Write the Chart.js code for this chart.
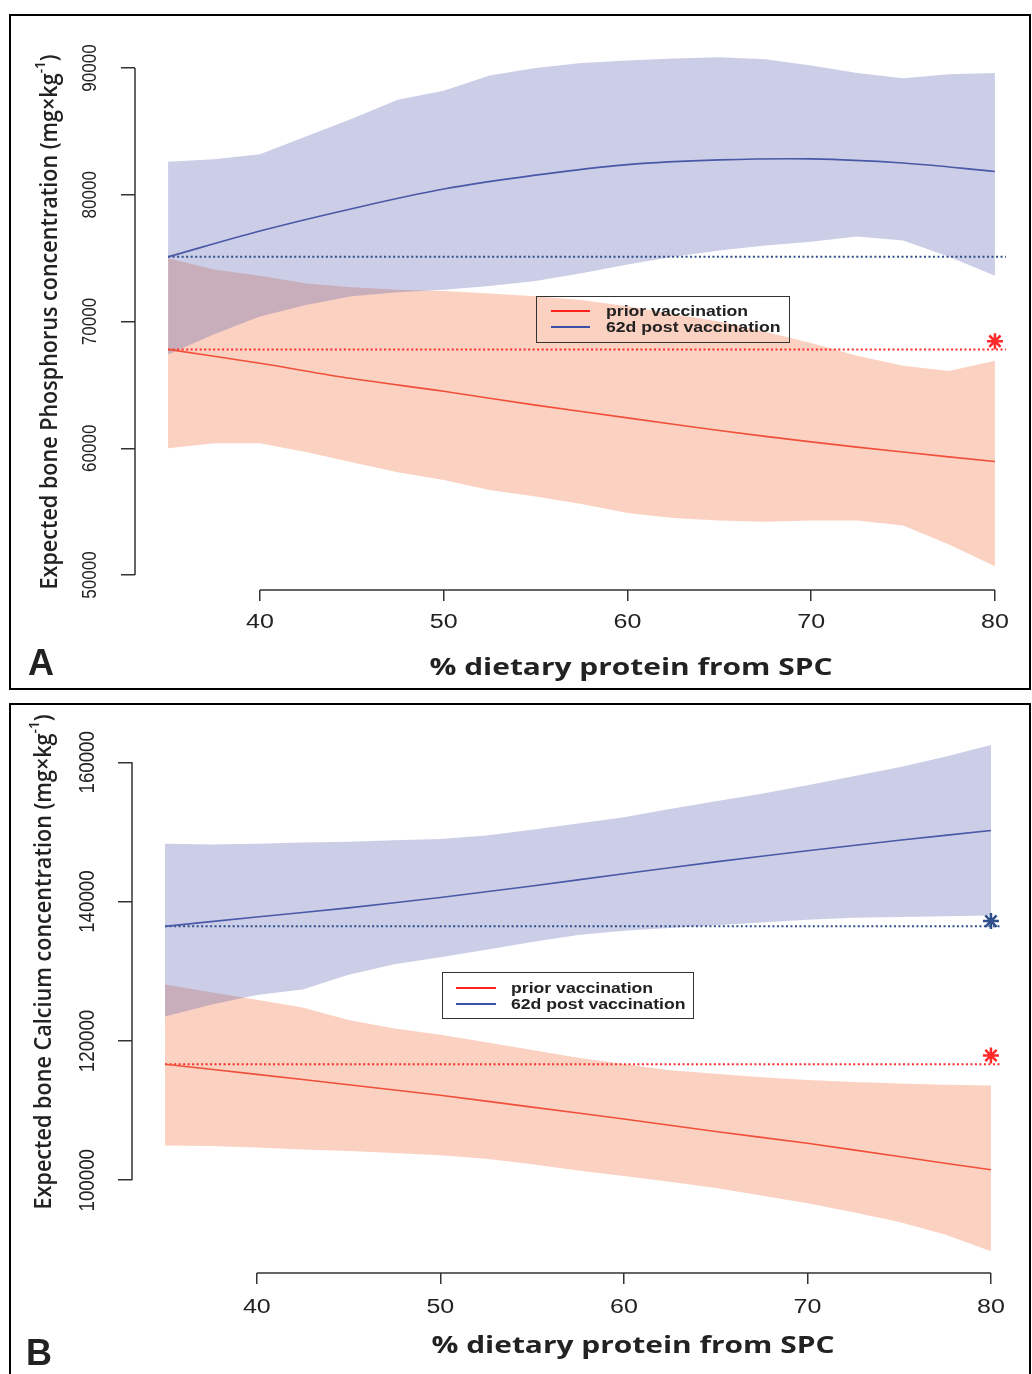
<!DOCTYPE html>
<html>
<head>
<meta charset="utf-8">
<script src="https://cdn.jsdelivr.net/npm/chart.js@4.4.1/dist/chart.umd.min.js"></script>
<style>
  body { margin: 0; background: #fff; width: 1032px; height: 1374px; position: relative; overflow: hidden; }
  canvas { position: absolute; left: 0; }
  .panel { position: absolute; left: 9px; width: 1018px; border: 2px solid #000; }
  .legend { position: absolute; border: 1.5px solid #333; font: bold 14px 'Liberation Sans', Arial, sans-serif; color: #222; }
  .legend span { position: absolute; height: 2px; }
  .legend div { position: absolute; white-space: nowrap; line-height: 18px; transform: scaleX(1.26); transform-origin: left center; }
</style>
</head>
<body>
<canvas id="chartA" width="1032" height="676" style="top:14px"></canvas>
<canvas id="chartB" width="1032" height="671" style="top:703px"></canvas>
<div class="panel" style="top:14px;height:672px"></div>
<div class="panel" style="top:703px;height:680px"></div>
<div id="legendA" class="legend" style="left:536px;top:296px;width:252px;height:45px"></div>
<div id="legendB" class="legend" style="left:442px;top:972px;width:250px;height:45px"></div>
<script>
// nama seri dan sumbu x
const seriesNames = ['prior vaccination', '62d post vaccination'];
const xTicks = [40, 50, 60, 70, 80];
const xBand = [35, 37.5, 40, 42.5, 45, 47.5, 50, 52.5, 55, 57.5, 60, 62.5, 65, 67.5, 70, 72.5, 75, 77.5, 80];
const xLine = [35, 40, 45, 50, 55, 60, 65, 70, 75, 80];
const xRef = [35, 80.6];

// Panel A - fosfor
const yTicksA = [50000, 60000, 70000, 80000, 90000];
const priorA = [67800, 66700, 65500, 64500, 63400, 62400, 61400, 60500, 59700, 58950];
const postA = [75100, 77140, 78900, 80450, 81550, 82380, 82750, 82830, 82500, 81840];
const priorLoA = [60000, 60400, 60400, 59700, 58900, 58100, 57500, 56700, 56200, 55600, 54900, 54500, 54300, 54200, 54300, 54300, 53900, 52400, 50700];
const priorHiA = [75000, 74100, 73600, 73000, 72700, 72500, 72400, 72200, 72000, 71700, 71200, 70600, 70000, 69200, 68300, 67300, 66500, 66100, 66900];
const postLoA = [67400, 69000, 70400, 71300, 72000, 72300, 72500, 72800, 73200, 73800, 74500, 75100, 75600, 76000, 76300, 76700, 76400, 75100, 73600];
const postHiA = [82600, 82800, 83200, 84600, 86000, 87500, 88200, 89400, 90000, 90400, 90600, 90750, 90850, 90700, 90200, 89600, 89200, 89500, 89600];
const priorRefA = 67800;
const postRefA = 75100;
const priorStarA = [{ x: 80, y: 68450 }];
const postStarA = [];

// Panel B - kalsium
const yTicksB = [100000, 120000, 140000, 160000];
const priorB = [116650, 115200, 113700, 112200, 110500, 108800, 107000, 105300, 103400, 101500];
const postB = [136450, 137800, 139100, 140600, 142250, 144000, 145700, 147300, 148800, 150200];
const priorLoB = [105000, 104900, 104700, 104400, 104200, 103900, 103600, 103100, 102300, 101400, 100600, 99800, 98900, 97800, 96700, 95400, 94000, 92200, 89800];
const priorHiB = [128100, 127000, 125900, 124800, 123000, 121800, 120900, 119800, 118700, 117600, 116700, 115800, 115300, 114800, 114400, 114100, 113900, 113700, 113600];
const postLoB = [123500, 125200, 126600, 127400, 129500, 131000, 132000, 133100, 134200, 135200, 135800, 136200, 136600, 137000, 137400, 137700, 137800, 137900, 138000];
const postHiB = [148300, 148200, 148300, 148500, 148600, 148800, 149000, 149500, 150300, 151200, 152100, 153300, 154400, 155500, 156700, 158000, 159300, 160800, 162500];
const priorRefB = 116650;
const postRefB = 136450;
const priorStarB = [{ x: 80, y: 117900 }];
const postStarB = [{ x: 80, y: 137200 }];

// warna
const RED_BAND = 'rgba(244, 124, 78, 0.35)';
const BLUE_BAND = 'rgba(82, 92, 172, 0.3)';
const RED_LINE = '#f0503a';
const BLUE_LINE = '#4a58a8';
const RED_DOT = '#ff2a2a';
const BLUE_DOT = '#2f4f8c';
const legendColors = ['#ff2020', '#3a50a8'];

Chart.defaults.font.family = "'Liberation Sans', Arial, sans-serif";

function pts(xs, ys) {
    return xs.map((x, i) => ({ x: x, y: ys[i] }));
}

// Judul sumbu, label tick (gaya R) dan garis sumbu
const rStyle = {
    id: 'rStyle',
    afterDraw(chart, args, o) {
        const ctx = chart.ctx;
        const xs = chart.scales.x;
        const ys = chart.scales.y;
        const area = chart.chartArea;
        ctx.save();

        // garis sumbu hanya dari tick pertama sampai terakhir
        ctx.strokeStyle = '#333';
        ctx.lineWidth = 1.5;
        ctx.beginPath();
        ctx.moveTo(xs.getPixelForValue(xTicks[0]), area.bottom);
        ctx.lineTo(xs.getPixelForValue(xTicks[xTicks.length - 1]), area.bottom);
        ctx.moveTo(area.left, ys.getPixelForValue(o.yTicks[0]));
        ctx.lineTo(area.left, ys.getPixelForValue(o.yTicks[o.yTicks.length - 1]));
        ctx.stroke();

        ctx.fillStyle = '#222';
        ctx.textAlign = 'center';
        ctx.textBaseline = 'middle';

        // label tick x (agak melebar seperti gambar asli)
        ctx.font = "20px 'Liberation Sans', Arial, sans-serif";
        xTicks.forEach(v => {
            ctx.save();
            ctx.translate(xs.getPixelForValue(v), area.bottom + o.xTickDy);
            ctx.scale(1.25, 1);
            ctx.fillText(String(v), 0, 0);
            ctx.restore();
        });

        // label tick y (diputar)
        ctx.font = o.yTickSize + "px 'Liberation Sans', Arial, sans-serif";
        o.yTicks.forEach(v => {
            ctx.save();
            ctx.translate(o.yTickX, ys.getPixelForValue(v));
            ctx.rotate(-Math.PI / 2);
            ctx.scale(0.85, 1);
            ctx.fillText(String(v), 0, 0);
            ctx.restore();
        });

        // judul sumbu y dengan superskrip
        const mainFont = "600 24px 'Open Sans', sans-serif";
        const supFont = "600 15px 'Open Sans', sans-serif";
        ctx.font = mainFont;
        const w1 = ctx.measureText(o.yTitle[0]).width;
        const w3 = ctx.measureText(o.yTitle[2]).width;
        ctx.font = supFont;
        const w2 = ctx.measureText(o.yTitle[1]).width;
        const total = w1 + w2 + w3;
        ctx.save();
        ctx.translate(o.yTitleX, o.yTitleY);
        ctx.rotate(-Math.PI / 2);
        ctx.scale(o.yTitleLen / total, 1);
        ctx.textAlign = 'left';
        let px = -total / 2;
        ctx.font = mainFont;
        ctx.fillText(o.yTitle[0], px, 0);
        px += w1;
        ctx.font = supFont;
        ctx.fillText(o.yTitle[1], px, -9);
        px += w2;
        ctx.font = mainFont;
        ctx.fillText(o.yTitle[2], px, 0);
        ctx.restore();

        // judul sumbu x
        ctx.font = "bold 24px 'Open Sans', sans-serif";
        const wx = ctx.measureText(o.xTitle).width;
        ctx.save();
        ctx.translate(o.xTitleX, area.bottom + o.xTitleDy);
        ctx.scale(o.xTitleLen / wx, 1);
        ctx.textAlign = 'center';
        ctx.fillText(o.xTitle, 0, 0);
        ctx.restore();

        // huruf panel
        ctx.font = "bold 36px 'Liberation Sans', Arial, sans-serif";
        ctx.textAlign = 'left';
        ctx.textBaseline = 'alphabetic';
        ctx.fillText(o.letter, o.letterX, o.letterY);

        ctx.restore();
    }
};

function makePanel(id, p) {
    const ctx = document.getElementById(id).getContext('2d');
    const band = (data, fill, color) => ({
        data: data, borderColor: 'transparent', borderWidth: 0, pointRadius: 0,
        fill: fill, backgroundColor: color, order: color === RED_BAND ? 10 : 9
    });
    const line = (data, color, width, dash, order) => ({
        data: data, borderColor: color, borderWidth: width, borderDash: dash,
        pointRadius: 0, fill: false, tension: 0.35, order: order
    });
    const star = (data, color) => ({
        data: data, showLine: false, pointStyle: 'star', pointRadius: 8,
        pointBorderColor: color, pointBorderWidth: 2.5, pointBackgroundColor: color, order: 1
    });

    return new Chart(ctx, {
        type: 'line',
        data: {
            datasets: [
                band(pts(xBand, p.priorLo), false, RED_BAND),
                band(pts(xBand, p.priorHi), '-1', RED_BAND),
                band(pts(xBand, p.postLo), false, BLUE_BAND),
                band(pts(xBand, p.postHi), '-1', BLUE_BAND),
                line(pts(xLine, p.prior), RED_LINE, 1.6, [], 2),
                line(pts(xLine, p.post), BLUE_LINE, 1.6, [], 2),
                line(pts(xRef, [p.priorRef, p.priorRef]), RED_DOT, 2, [2, 2.5], 3),
                line(pts(xRef, [p.postRef, p.postRef]), BLUE_DOT, 2, [2, 2.5], 3),
                star(p.priorStar, RED_DOT),
                star(p.postStar, BLUE_DOT)
            ]
        },
        options: {
            responsive: false,
            animation: false,
            devicePixelRatio: 1,
            layout: { autoPadding: false, padding: { left: 0, right: p.padRight, top: p.padTop, bottom: 0 } },
            plugins: {
                legend: { display: false },
                tooltip: { enabled: false },
                rStyle: p.text
            },
            scales: {
                x: {
                    type: 'linear',
                    min: 33.2,
                    max: 81.8,
                    afterBuildTicks: s => { s.ticks = xTicks.map(v => ({ value: v })); },
                    afterFit: s => { s.height = p.xAxisH; },
                    grid: { drawOnChartArea: false, drawTicks: true, tickLength: 11, color: '#333', lineWidth: 1.5 },
                    border: { display: false },
                    ticks: { display: false }
                },
                y: {
                    type: 'linear',
                    min: p.yMin,
                    max: p.yMax,
                    afterBuildTicks: s => { s.ticks = p.yTicks.map(v => ({ value: v })); },
                    afterFit: s => { s.width = p.yAxisW; },
                    grid: { drawOnChartArea: false, drawTicks: true, tickLength: 14, color: '#333', lineWidth: 1.5 },
                    border: { display: false },
                    ticks: { display: false }
                }
            }
        },
        plugins: [rStyle]
    });
}

// Legenda HTML (kotak transparan seperti pada gambar R)
function buildLegend(id, lay) {
    const box = document.getElementById(id);
    seriesNames.forEach((name, i) => {
        const ln = document.createElement('span');
        ln.style.cssText = `left:${lay.lineX}px;top:${lay.rowY[i] - 1}px;width:${lay.lineW}px;background:${legendColors[i]}`;
        box.appendChild(ln);
        const tx = document.createElement('div');
        tx.textContent = name;
        tx.style.cssText = `left:${lay.textX}px;top:${lay.rowY[i] - 9}px`;
        box.appendChild(tx);
    });
}

document.addEventListener('DOMContentLoaded', () => {
    makePanel('chartA', {
        prior: priorA, post: postA, priorLo: priorLoA, priorHi: priorHiA, postLo: postLoA, postHi: postHiA,
        priorRef: priorRefA, postRef: postRefA, priorStar: priorStarA, postStar: postStarA,
        yTicks: yTicksA, yMin: 48817, yMax: 92446,
        padTop: 23, padRight: 4, yAxisW: 135, xAxisH: 100,
        text: {
            yTicks: yTicksA, yTickX: 90, yTickSize: 20, xTickDy: 32,
            yTitle: ['Expected bone Phosphorus concentration (mg\u00d7kg', '-1', ')'],
            yTitleX: 50, yTitleY: 308, yTitleLen: 535,
            xTitle: '% dietary protein from SPC', xTitleX: 631, xTitleDy: 78, xTitleLen: 403,
            letter: 'A', letterX: 28, letterY: 661
        }
    });
    makePanel('chartB', {
        prior: priorB, post: postB, priorLo: priorLoB, priorHi: priorHiB, postLo: postLoB, postHi: postHiB,
        priorRef: priorRefB, postRef: postRefB, priorStar: priorStarB, postStar: postStarB,
        yTicks: yTicksB, yMin: 86682, yMax: 165500,
        padTop: 21, padRight: 8, yAxisW: 132, xAxisH: 101,
        text: {
            yTicks: yTicksB, yTickX: 88, yTickSize: 22, xTickDy: 34,
            yTitle: ['Expected bone Calcium concentration (mg\u00d7kg', '-1', ')'],
            yTitleX: 44, yTitleY: 259, yTitleLen: 495,
            xTitle: '% dietary protein from SPC', xTitleX: 633, xTitleDy: 73, xTitleLen: 403,
            letter: 'B', letterX: 26, letterY: 662
        }
    });
    buildLegend('legendA', { lineX: 13.5, lineW: 39, textX: 68.5, rowY: [13.5, 29.5] });
    buildLegend('legendB', { lineX: 12.5, lineW: 40, textX: 67.5, rowY: [14.5, 30.5] });
});
</script>
</body>
</html>
